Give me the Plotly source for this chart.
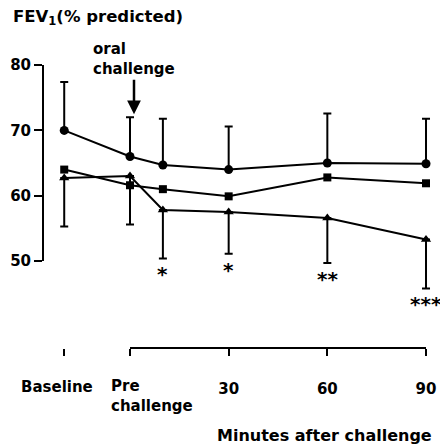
import plotly.graph_objects as go

# ---------------- data ----------------
categories = ["Baseline", "Pre challenge", "10 min", "30 min", "60 min", "90 min"]
time_min = [-20, 0, 10, 30, 60, 90]          # baseline drawn left of the time axis

circle_mean = [70.0, 66.0, 64.7, 64.0, 65.0, 64.9]
circle_upper = [77.4, 72.0, 71.8, 70.6, 72.6, 71.8]

square_mean = [64.0, 61.6, 61.0, 59.9, 62.8, 61.9]

triangle_mean = [62.7, 63.0, 57.8, 57.5, 56.6, 53.3]
triangle_lower = [55.3, 55.6, 50.4, 51.1, 49.7, 45.8]

significance = ["", "", "*", "*", "**", "***"]

y_tick_vals = [50, 60, 70, 80]
x_tick_vals = [30, 60, 90]
x_tick_text = ["30", "60", "90"]
x_minor_tick_vals = [-20, 0]

# ---------------- layout geometry ----------------
W, H = 440, 446
L, R, T, B = 43, 4, 40, 98
PW, PH = W - L - R, H - T - B
X0_PX, X_PER_MIN = 130.0, 3.289
Y60_PX, Y_PER_UNIT = 195.7, 6.53

def px_x(m):
    return X0_PX + m * X_PER_MIN

def px_y(v):
    return Y60_PX - (v - 60) * Y_PER_UNIT

x_range = [(L - X0_PX) / X_PER_MIN, (L + PW - X0_PX) / X_PER_MIN]
y_range = [60 - (T + PH - Y60_PX) / Y_PER_UNIT, 60 + (Y60_PX - T) / Y_PER_UNIT]

def paper_x(px):
    return (px - L) / PW

def paper_y(py):
    return (T + PH - py) / PH

FONT = "DejaVu Sans"
BLACK = "black"

fig = go.Figure()

fig.add_trace(go.Scatter(
    x=time_min, y=circle_mean, mode="lines+markers",
    line=dict(color=BLACK, width=2),
    marker=dict(symbol="circle", size=9, color=BLACK),
    error_y=dict(type="data", symmetric=False,
                 array=[u - m for u, m in zip(circle_upper, circle_mean)],
                 arrayminus=[0] * len(circle_mean),
                 color=BLACK, thickness=2, width=4),
    showlegend=False, hoverinfo="skip"))

fig.add_trace(go.Scatter(
    x=time_min, y=square_mean, mode="lines+markers",
    line=dict(color=BLACK, width=2),
    marker=dict(symbol="square", size=8, color=BLACK),
    showlegend=False, hoverinfo="skip"))

fig.add_trace(go.Scatter(
    x=time_min, y=triangle_mean, mode="lines+markers",
    line=dict(color=BLACK, width=2),
    marker=dict(symbol="triangle-up", size=9, color=BLACK),
    error_y=dict(type="data", symmetric=False,
                 array=[0] * len(triangle_mean),
                 arrayminus=[m - lo for m, lo in zip(triangle_mean, triangle_lower)],
                 color=BLACK, thickness=2, width=4),
    showlegend=False, hoverinfo="skip"))

# helper (empty) traces so the visible partial axes get drawn
fig.add_trace(go.Scatter(x=[], y=[], xaxis="x", yaxis="y2", showlegend=False))
fig.add_trace(go.Scatter(x=[], y=[], xaxis="x2", yaxis="y", showlegend=False))

annotations = []
# significance stars
for t, lo, s in zip(time_min, triangle_lower, significance):
    if s:
        annotations.append(dict(x=t, y=lo, xref="x", yref="y", text=s,
                                showarrow=False, yanchor="middle", yshift=-16,
                                font=dict(size=20, family=FONT, color=BLACK)))

# y title
annotations.append(dict(x=paper_x(11), y=paper_y(17), xref="paper", yref="paper",
                        text="FEV<sub>1</sub>(% predicted)", showarrow=False,
                        xanchor="left", yanchor="middle",
                        font=dict(size=16.5, family=FONT, color=BLACK)))
# oral challenge label with arrow
annotations.append(dict(x=time_min[1], y=circle_upper[1], xref="x", yref="y",
                        xshift=4, yshift=3, ax=0, ay=-55,
                        text="oral<br>challenge", align="left",
                        showarrow=True, arrowhead=2, arrowsize=1.1, arrowwidth=2.5,
                        arrowcolor=BLACK, standoff=0,
                        font=dict(size=15, family=FONT, color=BLACK)))
# x labels
annotations.append(dict(x=paper_x(57), y=paper_y(387), xref="paper", yref="paper",
                        text="Baseline", showarrow=False, xanchor="center", yanchor="middle",
                        font=dict(size=15, family=FONT, color=BLACK)))
annotations.append(dict(x=paper_x(109), y=paper_y(396), xref="paper", yref="paper",
                        text="Pre<br>challenge", showarrow=False, xanchor="left",
                        yanchor="middle", align="left",
                        font=dict(size=15, family=FONT, color=BLACK)))
annotations.append(dict(x=paper_x(434), y=paper_y(435), xref="paper", yref="paper",
                        text="Minutes after challenge", showarrow=False, xanchor="right",
                        yanchor="middle",
                        font=dict(size=16, family=FONT, color=BLACK)))

fig.update_layout(
    width=W, height=H,
    margin=dict(l=L, r=R, t=T, b=B, pad=0),
    paper_bgcolor="white", plot_bgcolor="rgba(0,0,0,0)",
    font=dict(family=FONT, size=15, color=BLACK, weight="bold"),
    xaxis=dict(range=x_range, domain=[0, 1], anchor="y",
               showline=False, showgrid=False, zeroline=False,
               ticks="outside", ticklen=7, tickwidth=2, tickcolor=BLACK,
               tickvals=x_tick_vals, ticktext=x_tick_text,
               ticklabelstandoff=20,
               minor=dict(tickvals=x_minor_tick_vals, ticks="outside", ticklen=7,
                          tickwidth=2, tickcolor=BLACK, showgrid=False),
               tickfont=dict(size=15, family=FONT, color=BLACK)),
    yaxis=dict(range=y_range, domain=[0, 1], visible=False),
    xaxis2=dict(range=[0, 90],
                domain=[paper_x(px_x(0)), paper_x(px_x(90))],
                anchor="free", position=0,
                showline=True, linewidth=2, linecolor=BLACK,
                showgrid=False, zeroline=False, ticks="", showticklabels=False),
    yaxis2=dict(range=[50, 80],
                domain=[paper_y(px_y(50)), paper_y(px_y(80))],
                anchor="free", position=0, side="left",
                showline=True, linewidth=2, linecolor=BLACK,
                showgrid=False, zeroline=False,
                ticks="outside", ticklen=8, tickwidth=2, tickcolor=BLACK,
                tickvals=y_tick_vals,
                tickfont=dict(size=15, family=FONT, color=BLACK)),
    annotations=annotations,
)

fig.write_html("out.html", config={"displayModeBar": False},
               post_script="document.body.style.margin='0';")
